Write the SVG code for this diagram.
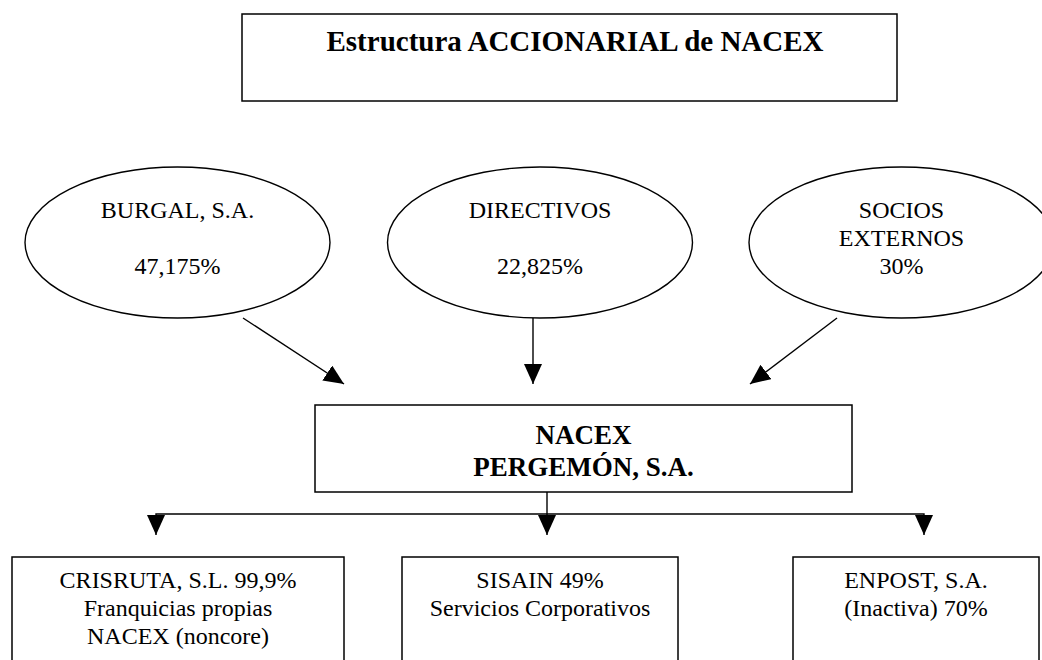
<svg xmlns="http://www.w3.org/2000/svg" width="1042" height="660" viewBox="0 0 1042 660">
<style>
.box{fill:#fff;stroke:#000;stroke-width:1.5}
.ell{fill:#fff;stroke:#000;stroke-width:1.4}
.t{font-family:"Liberation Serif","Times New Roman",serif;font-size:24px;fill:#000;text-anchor:middle}
.b{font-weight:bold;font-size:27px}
.title{font-weight:bold;font-size:29px}
.con{fill:none;stroke:#000;stroke-width:1.4;marker-end:url(#ah)}
</style>
<defs>
<marker id="ah" viewBox="0 0 20 18" refX="20" refY="9" markerWidth="20" markerHeight="18" markerUnits="userSpaceOnUse" orient="auto">
<path d="M0,0 L20,9 L0,18 Z" fill="#000"/>
</marker>
</defs>
<rect width="1042" height="660" fill="#fff"/>
<g id="title">
<rect class="box" x="242" y="14" width="655" height="87"/>
<text class="t title" x="575" y="51">Estructura ACCIONARIAL de NACEX</text>
</g>
<g id="burgal">
<ellipse class="ell" cx="177.5" cy="242.5" rx="152.5" ry="75.5"/>
<text class="t" x="177.5" y="218">BURGAL, S.A.</text>
<text class="t" x="177.5" y="274">47,175%</text>
</g>
<g id="directivos">
<ellipse class="ell" cx="540" cy="242.5" rx="152.5" ry="75.5"/>
<text class="t" x="540" y="218">DIRECTIVOS</text>
<text class="t" x="540" y="274">22,825%</text>
</g>
<g id="socios">
<ellipse class="ell" cx="901.5" cy="242.5" rx="152.5" ry="75.5"/>
<text class="t" x="901.5" y="218">SOCIOS</text>
<text class="t" x="901.5" y="246">EXTERNOS</text>
<text class="t" x="901.5" y="274">30%</text>
</g>
<g id="nacex">
<rect class="box" x="315" y="405" width="537" height="87"/>
<text class="t b" x="583.5" y="444">NACEX</text>
<text class="t b" x="583.5" y="476">PERGEMÓN, S.A.</text>
</g>
<g id="crisruta">
<rect class="box" x="12" y="557" width="332" height="120"/>
<text class="t" x="178" y="588">CRISRUTA, S.L. 99,9%</text>
<text class="t" x="178" y="616">Franquicias propias</text>
<text class="t" x="178" y="644">NACEX (noncore)</text>
</g>
<g id="sisain">
<rect class="box" x="402" y="557" width="276" height="120"/>
<text class="t" x="540" y="588">SISAIN 49%</text>
<text class="t" x="540" y="616">Servicios Corporativos</text>
</g>
<g id="enpost">
<rect class="box" x="793" y="557" width="246" height="120"/>
<text class="t" x="916" y="588">ENPOST, S.A.</text>
<text class="t" x="916" y="616">(Inactiva) 70%</text>
</g>
<g id="connectors">
<path class="con" d="M243,318 L344,384"/>
<path class="con" d="M533,318 V384"/>
<path class="con" d="M837,318 L750,384"/>
<path class="con" d="M547,492 V535"/>
<path class="con" d="M547,514 H156 V535"/>
<path class="con" d="M547,514 H924 V535"/>
</g>
</svg>
